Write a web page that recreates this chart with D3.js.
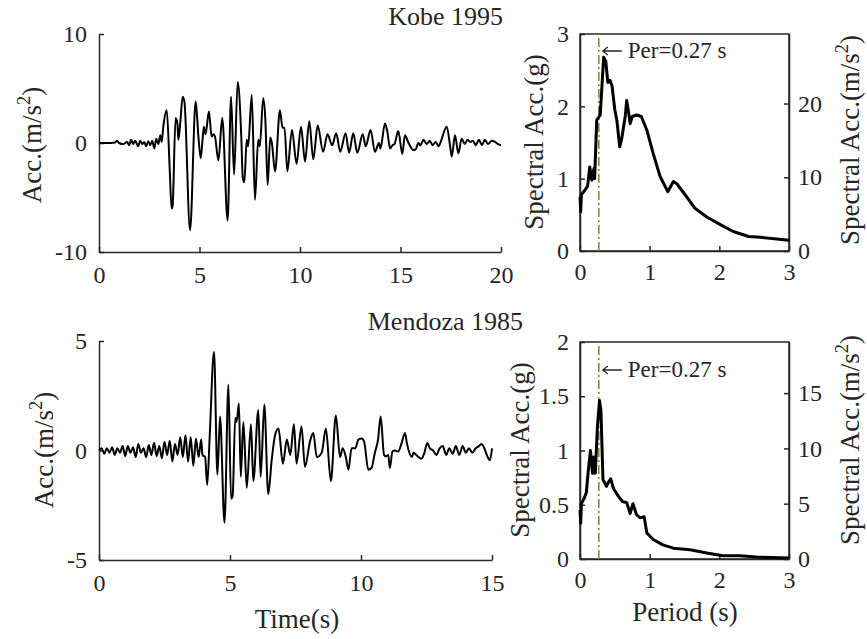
<!DOCTYPE html>
<html>
<head>
<meta charset="utf-8">
<script src="https://cdn.jsdelivr.net/npm/d3@7"></script>
<style>
body { margin: 0; background: #fff; }
svg text { font-family: "Liberation Serif", "Times New Roman", serif; fill: #262626; }
</style>
</head>
<body>
<svg id="fig" width="867" height="639"></svg>
<script>
// ground motion records [time (s), acc (m/s2)]
var kobeAcc = [[0,0],[0.4,0],[0.8,0.05],[0.9,0.2],[1.0,0],[1.2,-0.1],[1.4,0.1],[1.5,-0.2],[1.6,0.3],[1.7,-0.1],[1.8,0.2],[1.95,-0.3],[2.05,0.2],[2.15,-0.1],[2.25,0.1],[2.35,-0.3],[2.45,0.15],[2.55,-0.2],[2.65,0.2],[2.75,-0.5],[2.85,0.4],[2.95,-0.1],[3.05,0.7],[3.12,0.1],
  [3.2,1.5],[3.37,3.0],[3.52,-2.5],[3.61,-6.0],[3.66,-5.8],[3.81,2.3],[3.9,1.8],[3.95,0.3],[4.05,2.0],[4.16,4.25],[4.25,3.8],[4.53,-8.0],[4.81,3.8],[4.95,0.5],[5.06,-1.4],[5.16,0.5],[5.22,1.5],[5.3,0.8],[5.47,2.9],[5.6,0.6],[5.7,0.8],[5.77,0.6],[5.94,-1.6],[6.13,2.3],[6.4,-7.1],[6.57,4.25],[6.72,-2.9],[6.9,5.6],[7.08,0.5],[7.15,-3.1],[7.23,-3.6],[7.35,0.3],[7.42,-0.3],[7.6,4.4],[7.76,-5.2],[7.92,0.3],[8.0,-0.3],[8.17,4.1],[8.28,2.0],[8.39,-3.85],[8.52,0.5],[8.6,0.0],[8.76,-2.6],[9.0,3.0],[9.13,1.4],[9.23,1.4],[9.37,-2.6],[9.6,1.2],[9.83,-1.9],[10.05,1.5],[10.25,-1.7],[10.46,2.0],[10.66,-1.5],[10.88,1.6],[11.15,-0.8],[11.37,0.8],[11.6,-0.2],[11.8,0.9],[12.0,-0.8],[12.27,0.9],[12.44,-0.9],[12.65,0.9],[12.85,-0.9],[13.12,0.8],[13.27,-0.3],[13.51,1.2],[13.73,-0.8],[13.93,0],[14.0,-0.5],[14.23,1.8],[14.35,1.0],[14.48,-0.5],[14.6,-0.2],[14.7,-0.1],[14.89,1.1],[15.09,-1.0],[15.22,0.7],[15.4,0.0],[15.64,-0.64],[15.75,-0.6],[15.89,0],[16.0,-0.2],[16.14,0.3],[16.3,-0.1],[16.45,0.2],[16.6,-0.2],[16.75,0.1],[16.9,-0.3],[17.0,0.1],[17.3,1.5],[17.47,-0.3],[17.55,-1.25],[17.71,0.7],[17.88,-0.95],[18.04,0.4],[18.2,-0.1],[18.33,0.3],[18.47,0.1],[18.6,0.2],[18.75,-0.2],[18.9,0.3],[19.05,-0.2],[19.2,0.3],[19.35,-0.1],[19.55,0.2],[19.7,0.1],[19.85,-0.1],[20,-0.2]];

var mendozaAcc = [[0,0],[0.1,0.1],[0.2,-0.15],[0.3,0.1],[0.4,-0.1],[0.5,0.15],[0.6,-0.2],[0.7,0.1],[0.8,-0.1],[0.9,0.2],[1.0,-0.25],[1.1,0.2],[1.2,-0.1],[1.3,0.15],[1.4,-0.3],[1.5,0.3],[1.6,-0.1],[1.7,0.1],[1.8,-0.3],[1.9,0.25],[2.0,-0.2],[2.1,0.35],[2.2,-0.25],[2.3,0.2],[2.4,-0.35],[2.5,0.4],[2.6,-0.2],[2.7,0.45],[2.8,-0.5],[2.9,0.3],[3.0,-0.2],[3.1,0.6],[3.2,-0.3],[3.3,0.7],[3.4,-0.5],[3.5,0.6],[3.6,-0.7],[3.7,0.55],[3.8,-0.3],[3.9,0.5],[3.95,-0.2],[4.05,-0.3],
  [4.13,-1.58],[4.22,0.5],[4.39,4.5],[4.52,-1.1],[4.62,1.55],[4.79,-3.3],[4.94,3.0],[5.04,-2.2],[5.1,-2.1],[5.2,1.5],[5.25,1.3],[5.34,2.15],[5.41,-1.2],[5.51,1.3],[5.64,-1.7],[5.8,1.2],[5.89,-1.4],[6.08,1.85],[6.17,-1.2],[6.31,2.1],[6.46,-2.0],[6.59,-0.45],[6.72,0.7],[6.85,1.0],[7.02,-0.6],[7.17,0.5],[7.3,-0.2],[7.44,1.2],[7.54,-0.6],[7.73,1.1],[7.86,-0.75],[8.06,0.45],[8.18,0.8],[8.31,-0.3],[8.5,-0.1],[8.66,1.0],[8.85,-1.4],[9.04,1.6],[9.2,-0.3],[9.3,0.1],[9.43,-0.35],[9.52,-0.88],[9.64,0.1],[9.78,0.1],[9.9,0.5],[10.03,0.55],[10.12,0.4],[10.28,-0.88],[10.4,-0.8],[10.53,-0.1],[10.65,0.5],[10.75,1.55],[10.88,-0.2],[10.95,-0.27],[11.04,-0.2],[11.1,-0.8],[11.2,-0.05],[11.3,0.0],[11.42,-0.05],[11.55,0.34],[11.68,0.8],[11.75,0.34],[11.95,-0.3],[12.0,-0.1],[12.15,-0.25],[12.3,-0.38],[12.42,-0.1],[12.53,0.34],[12.63,0.1],[12.75,0.0],[12.88,-0.2],[13.0,0.1],[13.12,0.2],[13.25,-0.2],[13.37,0.1],[13.5,-0.15],[13.62,0.2],[13.75,-0.2],[13.88,0.2],[14.0,-0.1],[14.12,0.1],[14.25,-0.1],[14.38,0.1],[14.5,0.2],[14.6,0.3],[14.86,-0.35],[14.92,-0.45],[15.0,0.1]];

// response spectra [period (s), Sa (g)]
var kobeSpec = [[0,0.75],[0.01,0.54],[0.02,0.78],[0.07,0.84],[0.11,0.9],[0.14,1.16],[0.17,0.98],[0.2,1.14],[0.21,1.0],[0.24,1.81],[0.29,1.88],[0.34,2.68],[0.37,2.62],[0.4,2.33],[0.43,2.36],[0.46,2.28],[0.5,1.95],[0.53,1.8],[0.57,1.44],[0.6,1.56],[0.65,1.87],[0.67,2.08],[0.7,1.9],[0.72,1.76],[0.75,1.86],[0.81,1.88],[0.88,1.86],[0.96,1.67],[1.05,1.35],[1.15,1.03],[1.26,0.82],[1.34,0.96],[1.39,0.93],[1.53,0.75],[1.65,0.59],[1.82,0.47],[2.06,0.34],[2.2,0.27],[2.42,0.2],[2.59,0.19],[3.0,0.15]];

var mendozaSpec = [[0,0.45],[0.01,0.33],[0.02,0.51],[0.06,0.56],[0.09,0.61],[0.12,0.82],[0.15,1.0],[0.18,0.79],[0.2,0.94],[0.22,0.79],[0.25,1.22],[0.28,1.46],[0.3,1.37],[0.33,0.73],[0.38,0.67],[0.41,0.71],[0.44,0.74],[0.48,0.65],[0.55,0.58],[0.61,0.53],[0.67,0.52],[0.72,0.42],[0.76,0.51],[0.81,0.41],[0.86,0.38],[0.92,0.39],[0.96,0.24],[1.05,0.18],[1.19,0.13],[1.34,0.1],[1.58,0.086],[1.82,0.055],[2.05,0.03],[2.29,0.03],[2.53,0.018],[3,0.01]];

var titles = ["Kobe 1995", "Mendoza 1985"];
var kobeTimeTicks = [0, 5, 10, 15, 20], kobeAccTicks = [-10, 0, 10];
var mendozaTimeTicks = [0, 5, 10, 15], mendozaAccTicks = [-5, 0, 5];
var periodTicks = [0, 1, 2, 3];
var kobeSaTicks = [0, 1, 2, 3], kobeSaMsTicks = [0, 10, 20];
var mendozaSaTicks = [0, 0.5, 1, 1.5, 2], mendozaSaMsTicks = [0, 5, 10, 15];
var perValue = 0.27, perLabel = "Per=0.27 s";
var g0 = 9.81;

var svg = d3.select("#fig");
var INK = "#262626", TICK_FS = 24, LABEL_FS = 27;

function styleAxis(sel) {
    sel.selectAll("path.domain").attr("stroke", INK).attr("stroke-width", 1.5);
    sel.selectAll(".tick line").attr("stroke", INK).attr("stroke-width", 1.5);
    sel.selectAll(".tick text").attr("font-size", TICK_FS).attr("fill", INK)
        .attr("font-family", "'Liberation Serif','Times New Roman',serif");
}

// rotated label with an optional superscript "2"
function vLabel(x, y, pre, sup, post) {
    var t = svg.append("text")
        .attr("transform", "translate(" + x + "," + y + ") rotate(-90)")
        .attr("text-anchor", "middle")
        .attr("font-size", LABEL_FS);
    t.append("tspan").text(pre);
    if (sup) {
        t.append("tspan").attr("font-size", LABEL_FS * 0.68).attr("dy", -LABEL_FS * 0.42).text(sup);
        t.append("tspan").attr("dy", LABEL_FS * 0.42).text(post);
    }
    return t;
}

function drawHistory(data, xDom, yDom, xr, yr, xTicks, yTicks) {
    var x = d3.scaleLinear().domain(xDom).range(xr),
        y = d3.scaleLinear().domain(yDom).range(yr);
    var g = svg.append("g");
    g.append("g").attr("transform", "translate(0," + yr[0] + ")")
        .call(d3.axisBottom(x).tickValues(xTicks).tickFormat(String).tickSizeInner(-5).tickSizeOuter(0).tickPadding(14))
        .call(styleAxis);
    g.append("g").attr("transform", "translate(" + xr[0] + ",0)")
        .call(d3.axisLeft(y).tickValues(yTicks).tickFormat(String).tickSizeInner(-5).tickSizeOuter(0).tickPadding(12))
        .call(styleAxis);
    g.append("path").datum(data)
        .attr("fill", "none").attr("stroke", "#000").attr("stroke-width", 2)
        .attr("stroke-linejoin", "round")
        .attr("d", d3.line().curve(d3.curveMonotoneX)
            .x(function (d) { return x(d[0]); }).y(function (d) { return y(d[1]); }));
}

function drawSpectrum(data, yMax, xr, yr, yTicks, y2Ticks, labelY) {
    var x = d3.scaleLinear().domain([0, 3]).range(xr),
        y = d3.scaleLinear().domain([0, yMax]).range(yr),
        y2 = d3.scaleLinear().domain([0, yMax * g0]).range(yr);
    var g = svg.append("g");
    g.append("rect").attr("x", xr[0]).attr("y", yr[1])
        .attr("width", xr[1] - xr[0]).attr("height", yr[0] - yr[1])
        .attr("fill", "none").attr("stroke", INK).attr("stroke-width", 1.5);
    g.append("g").attr("transform", "translate(0," + yr[0] + ")")
        .call(d3.axisBottom(x).tickValues(periodTicks).tickFormat(String).tickSizeInner(-5).tickSizeOuter(0).tickPadding(12))
        .call(styleAxis);
    g.append("g").attr("transform", "translate(" + xr[0] + ",0)")
        .call(d3.axisLeft(y).tickValues(yTicks).tickFormat(String).tickSizeInner(-5).tickSizeOuter(0).tickPadding(11))
        .call(styleAxis);
    g.append("g").attr("transform", "translate(" + xr[1] + ",0)")
        .call(d3.axisRight(y2).tickValues(y2Ticks).tickFormat(String).tickSizeInner(-5).tickSizeOuter(0).tickPadding(9))
        .call(styleAxis);
    g.append("line")
        .attr("x1", x(perValue)).attr("x2", x(perValue))
        .attr("y1", yr[0]).attr("y2", yr[1])
        .attr("stroke", "#7d8040").attr("stroke-width", 1.5)
        .attr("stroke-dasharray", "9,3,2,3");
    g.append("path").datum(data)
        .attr("fill", "none").attr("stroke", "#000").attr("stroke-width", 3)
        .attr("stroke-linejoin", "round")
        .attr("d", d3.line().x(function (d) { return x(d[0]); }).y(function (d) { return y(d[1]); }));
    // left arrow pointing at the dash-dot line
    var ax = x(perValue) + 4, ay = labelY - 7;
    svg.append("path")
        .attr("d", "M" + (ax + 19) + "," + ay + "H" + ax + "M" + (ax + 5) + "," + (ay - 4) + "L" + ax + "," + ay + "L" + (ax + 5) + "," + (ay + 4))
        .attr("fill", "none").attr("stroke", INK).attr("stroke-width", 1.3);
    svg.append("text").attr("x", x(perValue) + 29).attr("y", labelY)
        .attr("font-size", 23).text(perLabel);
}

// Kobe 1995
drawHistory(kobeAcc, [0, 20], [-10, 10], [99, 501], [252, 34], kobeTimeTicks, kobeAccTicks);
drawSpectrum(kobeSpec, 3, [580, 789], [251, 34], kobeSaTicks, kobeSaMsTicks, 58);
svg.append("text").attr("x", 503).attr("y", 25).attr("text-anchor", "end")
    .attr("font-size", 26).text(titles[0]);
vLabel(41, 145, "Acc.(m/s", "2", ")");
vLabel(543, 142, "Spectral Acc.(g)");
vLabel(859, 140, "Spectral Acc.(m/s", "2", ")");

// Mendoza 1985
drawHistory(mendozaAcc, [0, 15], [-5, 5], [99, 492], [560, 341], mendozaTimeTicks, mendozaAccTicks);
drawSpectrum(mendozaSpec, 2, [580, 789], [559, 342], mendozaSaTicks, mendozaSaMsTicks, 377);
svg.append("text").attr("x", 523).attr("y", 330).attr("text-anchor", "end")
    .attr("font-size", 26).text(titles[1]);
vLabel(53, 450, "Acc.(m/s", "2", ")");
vLabel(529, 450, "Spectral Acc.(g)");
vLabel(859, 440, "Spectral Acc.(m/s", "2", ")");

svg.append("text").attr("x", 297).attr("y", 628).attr("text-anchor", "middle")
    .attr("font-size", LABEL_FS).text("Time(s)");
svg.append("text").attr("x", 685).attr("y", 621).attr("text-anchor", "middle")
    .attr("font-size", LABEL_FS).text("Period (s)");
</script>
</body>
</html>
